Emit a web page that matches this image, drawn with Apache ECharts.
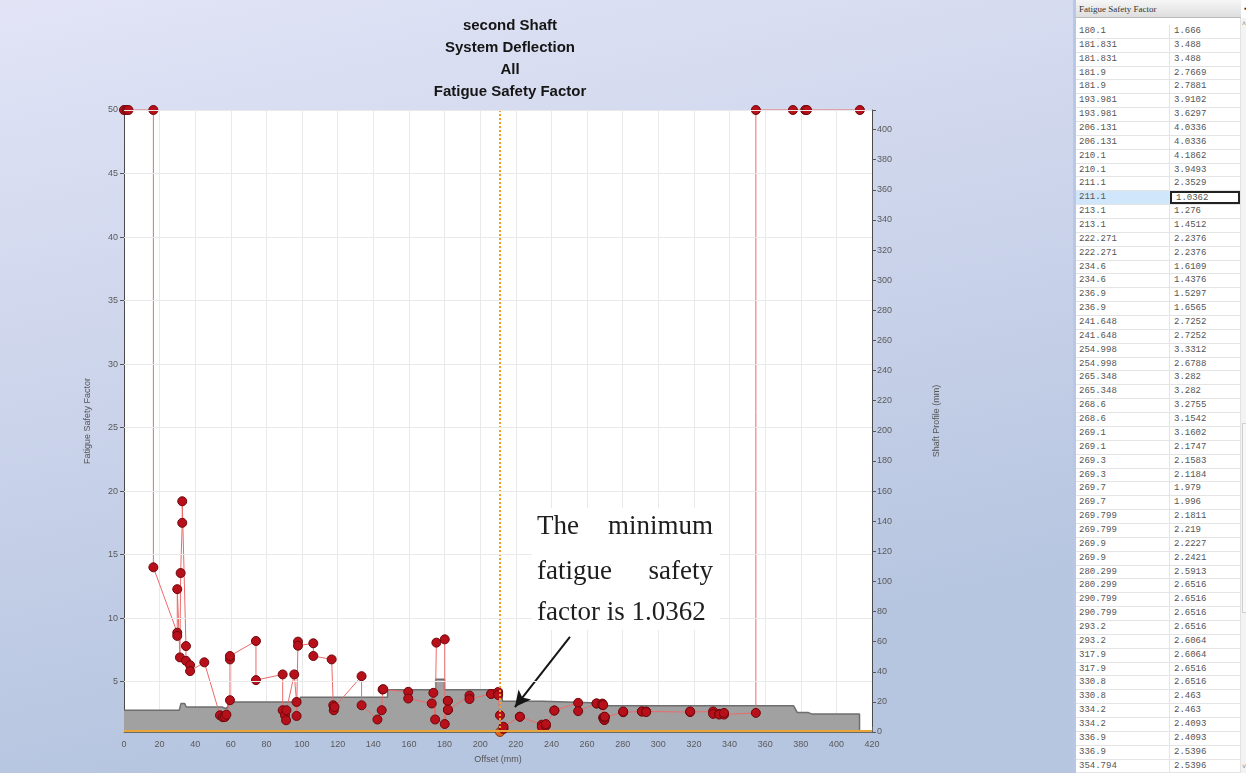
<!DOCTYPE html>
<html><head><meta charset="utf-8">
<script src="https://cdn.jsdelivr.net/npm/echarts@6/dist/echarts.min.js"></script>
<style>
html,body{margin:0;padding:0;width:1246px;height:773px;overflow:hidden;background:#fff;}
#chart{position:absolute;left:0;top:0;width:1073px;height:773px;}
#panel{position:absolute;left:1073px;top:0;width:173px;height:773px;background:#fff;border-left:3px solid #b9c7e6;box-sizing:border-box;overflow:hidden;font-family:'Liberation Mono',monospace;font-size:9px;color:#555;}
#hdr{position:absolute;left:0;top:0;width:165px;height:18px;background:linear-gradient(#f6f6f6,#dedede);border-bottom:1px solid #bbb;font-family:'Liberation Serif',serif;font-size:9px;color:#333;line-height:18px;padding-left:3px;box-sizing:border-box;}
#hdr span{position:absolute;right:-6px;top:0;font-size:8px;}
#rows{position:absolute;left:0;top:25px;width:164px;}
.row{position:relative;height:13.87px;border-bottom:1px solid #e4e4e4;box-sizing:border-box;}
.c1{position:absolute;left:0;top:0;width:94px;height:100%;padding-left:3px;line-height:12px;box-sizing:border-box;border-right:1px solid #e4e4e4;}
.c2{position:absolute;left:94px;top:0;width:70px;height:100%;padding-left:4px;line-height:12px;box-sizing:border-box;}
.sel .c1{background:#cfe6fb;}
.sel .c2{border:2px solid #222;line-height:10px;}
#sb{position:absolute;left:164px;top:18px;width:9px;height:755px;background:#f3f3f3;border-left:1px solid #e2e2e2;box-sizing:border-box;}
#thumb{position:absolute;left:1px;top:405px;width:6px;height:190px;border:1px solid #d0d0d0;background:#f8f8f8;box-sizing:border-box;}
#up{position:absolute;left:1px;top:2px;font-size:7px;color:#888;}
#dn{position:absolute;left:1px;bottom:2px;font-size:7px;color:#888;}
</style></head><body>
<div id="chart"></div>
<div id="panel"><div id="hdr">Fatigue Safety Factor<span>▪</span></div><div id="rows"></div><div id="sb"><div id="up">˄</div><div id="thumb"></div><div id="dn">˅</div></div></div>
<script>
// Fatigue safety factor along the shaft: [offset (mm), factor]
const fatiguePoints = [
  [0,50],[1.5,50],[2.5,50],[16.5,50],[16.5,14.0],[29.9,8.85],[29.9,8.6],[29.9,12.28],
  [31.4,6.91],[31.8,13.55],[32.7,17.5],[32.7,19.2],[34.8,7.8],[34.8,6.64],[37.1,6.3],[37.1,5.83],
  [45.1,6.52],[53.9,2.35],[55.5,2.2],[56.7,2.22],[57.5,2.4],[59.5,3.54],[59.5,6.75],[59.5,7.02],
  [74.1,8.2],[74.1,5.12],[89.1,5.57],[89.1,2.75],[90.4,2.35],[91.0,1.96],[91.2,2.75],[95.6,5.57],
  [96.9,3.4],[96.9,2.3],[97.7,8.15],[97.7,7.83],[106.3,8.02],[106.3,7.02],[116.6,6.75],[117.5,3.14],
  [117.8,2.75],[118.2,3.0],[133.4,5.43],[133.4,3.14],[142.3,2.02],[144.7,2.75],[145.2,4.38],[145.6,4.41],
  [159.6,4.2],[159.6,3.67],[172.8,3.28],[173.7,4.12],[174.7,2.02],[175.4,8.07],[180.1,8.33],
  [180.1,1.666],[181.831,3.488],[181.831,3.488],[181.9,2.7669],[181.9,2.7881],[193.981,3.9102],[193.981,3.6297],
  [206.131,4.0336],[206.131,4.0336],[210.1,4.1862],[210.1,3.9493],[211.1,2.3529],[211.1,1.0362],
  [213.1,1.276],[213.1,1.4512],[222.271,2.2376],[222.271,2.2376],[234.6,1.6109],[234.6,1.4376],
  [236.9,1.5297],[236.9,1.6565],[241.648,2.7252],[241.648,2.7252],[254.998,3.3312],[254.998,2.6788],
  [265.348,3.282],[265.348,3.282],[268.6,3.2755],[268.6,3.1542],[269.1,3.1602],[269.1,2.1747],
  [269.3,2.1583],[269.3,2.1184],[269.7,1.979],[269.7,1.996],[269.799,2.1811],[269.799,2.219],
  [269.9,2.2227],[269.9,2.2421],[280.299,2.5913],[280.299,2.6516],[290.799,2.6516],[290.799,2.6516],
  [293.2,2.6516],[293.2,2.6064],[317.9,2.6064],[317.9,2.6516],[330.8,2.6516],[330.8,2.463],
  [334.2,2.463],[334.2,2.4093],[336.9,2.4093],[336.9,2.5396],[354.794,2.5396],
  [354.794,50],[375.6,50],[382.5,50],[383.5,50],[413.2,50]
];
// Shaft outer profile: [offset (mm), radius (mm)]
const shaftProfile = [
  [0,14.4],[31,14.4],[32,19],[34,19],[35,16.6],[55,16.6],[57,15.6],[58.4,16.6],[58.4,20],
  [99,20],[99,23],[148,23],[148,28],[175,28],[175,35],[180,35],[180,28],[212,28],[212.5,20.5],
  [235,20.5],[235,19.2],[267,19.2],[267,17.4],[376,17.4],[378,13],[384,13],[386,12],[413,12],[413,0]
];
const leftTicks = [5,10,15,20,25,30,35,40,45,50];
const minFactor = 1.0362;
const minOffset = 211.1;
const titleLines = ['second Shaft','System Deflection','All','Fatigue Safety Factor'];
const tableStart = 55, tableEnd = 109; // rows shown in the side table

const noteFont = '27px "Liberation Serif", serif';
const chart = echarts.init(document.getElementById('chart'));
chart.setOption({
  backgroundColor: {type:'linear',x:0,y:0,x2:0.15,y2:1,colorStops:[{offset:0,color:'#e2e4f6'},{offset:1,color:'#b6c5e0'}]},
  animation:false,
  title:{text:titleLines.join('\n'),left:505,top:10,textAlign:'center',
    textStyle:{fontFamily:'Liberation Sans, Arial',fontSize:15,fontWeight:'bold',color:'#151515',lineHeight:22}},
  grid:{left:124,right:201,top:110,bottom:41,show:true,backgroundColor:'#ffffff',borderWidth:0},
  xAxis:{type:'value',min:0,max:420,interval:20,name:'Offset (mm)',nameLocation:'middle',nameGap:23,
    nameTextStyle:{fontSize:9,color:'#555',fontFamily:'Liberation Sans'},
    axisLine:{show:true,onZero:false,lineStyle:{color:'#6a6a6a'}},
    axisTick:{show:true,inside:true,length:5,lineStyle:{color:'#666'}},
    axisLabel:{fontSize:9,color:'#5a5a5a',margin:8,fontFamily:'Liberation Sans'},
    splitLine:{show:true,lineStyle:{color:'#e9e9e9'}}},
  yAxis:[
    {type:'value',min:minFactor,max:50,name:'Fatigue Safety Factor',nameLocation:'middle',nameGap:32,nameRotate:90,
     nameTextStyle:{fontSize:9,color:'#555',fontFamily:'Liberation Sans'},
     axisLine:{show:true,lineStyle:{color:'#4a4a4a'}},
     axisTick:{show:true,length:4,customValues:leftTicks,lineStyle:{color:'#555'}},
     axisLabel:{fontSize:9,color:'#5a5a5a',margin:6,customValues:leftTicks,fontFamily:'Liberation Sans'},
     splitLine:{show:false}},
    {type:'value',min:0,max:413,interval:20,position:'right',name:'Shaft Profile (mm)',nameLocation:'middle',nameGap:60,nameRotate:90,
     nameTextStyle:{fontSize:9,color:'#555',fontFamily:'Liberation Sans'},
     axisLine:{show:true,lineStyle:{color:'#4a4a4a'}},
     axisTick:{show:true,length:4,lineStyle:{color:'#555'}},
     axisLabel:{fontSize:9,color:'#5a5a5a',margin:5,fontFamily:'Liberation Sans',formatter:v=>v>400?'':v},
     splitLine:{show:false}}
  ],
  series:[
    {type:'line',name:'grid',yAxisIndex:0,data:[],z:0,silent:true,
     markLine:{silent:true,symbol:['none','none'],label:{show:false},animation:false,
       lineStyle:{color:'#e9e9e9',type:'solid',width:1},data:leftTicks.map(v=>({yAxis:v}))}},
    {type:'line',name:'Shaft Profile',yAxisIndex:1,data:shaftProfile,symbol:'none',z:1,silent:true,
     lineStyle:{color:'#6e6e6e',width:1.5},areaStyle:{color:'#a1a1a1',opacity:1},
     markLine:{silent:true,symbol:['none','none'],label:{show:false},
       lineStyle:{color:'#e8a63a',type:'solid',width:2},data:[{yAxis:1}]}},
    {type:'line',name:'Fatigue Safety Factor',yAxisIndex:0,z:3,clip:false,
     data:fatiguePoints.map(p=>(p[1]===minFactor?{value:p,itemStyle:{color:'#d9661e',borderColor:'#8a3a0a'}}:p)),
     symbol:'circle',symbolSize:9,
     itemStyle:{color:'#b8101a',borderColor:'#6e080c',borderWidth:1},
     lineStyle:{color:'#ec6a6a',width:1},
     markLine:{silent:true,label:{show:false},z:4,
       data:[
         [{xAxis:minOffset,yAxis:minFactor,symbol:'none',lineStyle:{color:'#f0a028',type:'dotted',width:2}},
          {xAxis:minOffset,yAxis:50,symbol:'none'}],
         [{coord:[250.4,8.52],symbol:'none',lineStyle:{color:'#151515',type:'solid',width:2}},
          {coord:[219.5,3.0],symbol:'arrow',symbolSize:[12,16]}]
       ]}}
  ],
  graphic:[
    {type:'rect',left:532,top:508,z:50,shape:{width:188,height:122},style:{fill:'#ffffff'}},
    {type:'text',left:537,top:513,z:51,style:{text:'The',font:noteFont,fill:'#1e1e1e'}},
    {type:'text',right:1073-713,top:513,z:51,style:{text:'minimum',font:noteFont,fill:'#1e1e1e'}},
    {type:'text',left:537,top:558,z:51,style:{text:'fatigue',font:noteFont,fill:'#1e1e1e'}},
    {type:'text',right:1073-713,top:558,z:51,style:{text:'safety',font:noteFont,fill:'#1e1e1e'}},
    {type:'text',left:537,top:599,z:51,style:{text:'factor is '+minFactor,font:noteFont,fill:'#1e1e1e'}}
  ]
});

// side table
const rowsEl = document.getElementById('rows');
fatiguePoints.slice(tableStart, tableEnd).forEach(p=>{
  const r = document.createElement('div');
  r.className = 'row' + (p[0]===minOffset && p[1]===minFactor ? ' sel' : '');
  r.innerHTML = '<div class="c1">'+p[0]+'</div><div class="c2">'+p[1]+'</div>';
  rowsEl.appendChild(r);
});
</script>
</body></html>
